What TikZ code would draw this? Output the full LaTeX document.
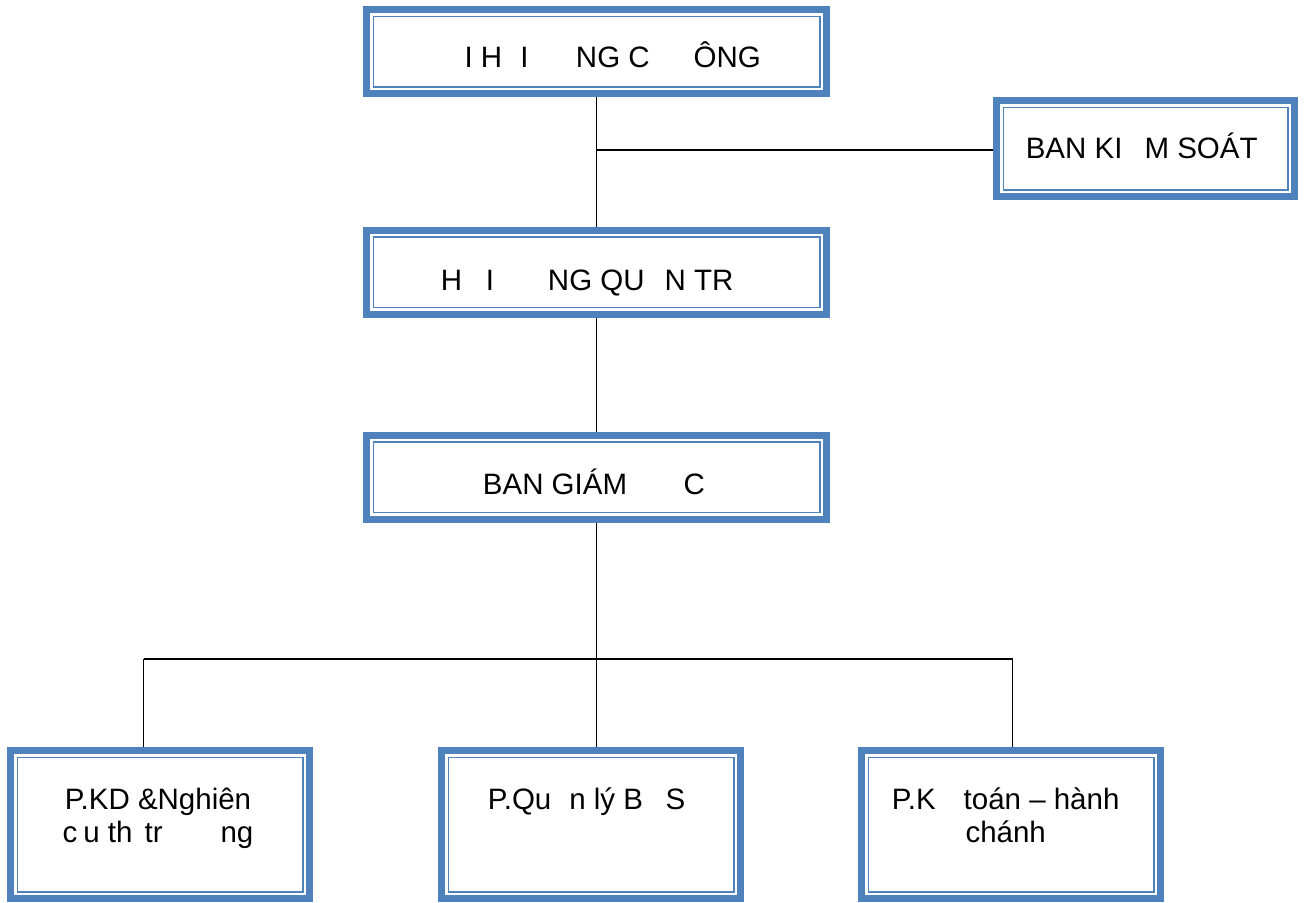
\documentclass[tikz,border=0pt]{standalone}
\usepackage{fontspec}
\setmainfont{Liberation Sans}
\usepackage{tikz}
\usetikzlibrary{calc}
\definecolor{orgblue}{HTML}{4F81BD}

\begin{document}
\begin{tikzpicture}[x=1pt,y=-1pt,
  unit/.style={draw=orgblue,line width=7pt,fill=white,inner sep=0pt},
  wide/.style={unit,minimum width=460pt,minimum height=84pt},
  dept/.style={unit,minimum width=299pt,minimum height=148pt},
  rim/.style={draw=orgblue,line width=1.5pt},
  txt/.style={inner sep=0pt,font=\fontsize{29.5}{33}\selectfont},
  link/.style={line width=1.5pt}
  ]
\def\ri{10.25}
\useasboundingbox (0,0) rectangle (1305,902);
\node[wide] (dhcd) at (596.5,51.5){};
\node[unit,minimum width=298pt,minimum height=96pt] (bks) at (1145.5,148.5){};
\node[wide] (hdqt) at (596.5,272){};
\node[wide] (bgd) at (596.5,477){};
\node[dept] (pkd) at (160,824.5){};
\node[dept] (pql) at (591,824.5){};
\node[dept] (pkt) at (1011,824.5){};
\foreach \b in {dhcd,bks,hdqt,bgd,pkd,pql,pkt}{
  \draw[rim] ($(\b.north west)+(\ri,\ri)$) rectangle ($(\b.south east)+(-\ri,-\ri)$);
}
\coordinate (tap) at (596.5,150);
\coordinate (busL) at (143.5,659);
\coordinate (busR) at (1012.5,659);
\draw[link] (dhcd.south) -- (hdqt.north);
\draw[link] (tap) -- (bks.west |- tap);
\draw[link] (hdqt.south) -- (bgd.north);
\draw[link] (bgd.south) -- (bgd.south |- pql.north);
\draw[link] (busL) -- (busR);
\draw[link] (busL) -- (busL |- pkd.north);
\draw[link] (busR) -- (busR |- pkt.north);
\node[txt,anchor=base west] (dhcdtext) at (464.3,67) {I H\hspace{18.3pt}I\hspace{47.3pt}NG C\hspace{44pt}ÔNG};
\node[txt,anchor=base west] (bkstext) at (1025.6,158) {BAN KI\hspace{22pt}M SOÁT};
\node[txt,anchor=base west] (hdqttext) at (440.7,290) {H\hspace{23.6pt}I\hspace{54pt}NG QU\hspace{20pt}N TR};
\node[txt,anchor=base west] (bgdtext) at (482.7,494) {BAN GIÁM\hspace{56.5pt}C};
\node[txt,align=center,anchor=base] (pkdtext) at (158,842) {P.KD \&Nghiên\\c\hspace{6pt}u th\hspace{12pt}tr\hspace{58pt}ng};
\node[txt,anchor=base west] (pqltext) at (487.7,809) {P.Qu\hspace{18pt}n lý B\hspace{22.5pt}S};
\node[txt,align=center,anchor=base] (pkttext) at (1005.7,842) {P.K\hspace{28pt}toán – hành\\chánh};
\end{tikzpicture}
\end{document}
